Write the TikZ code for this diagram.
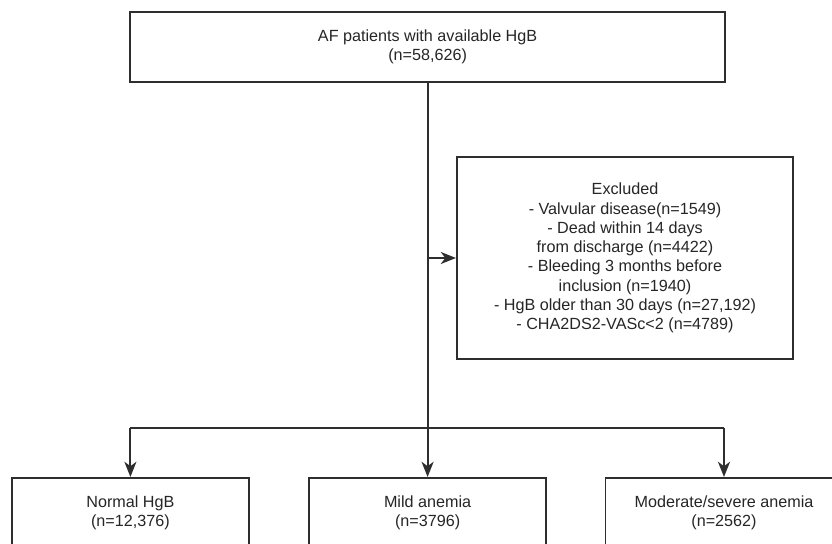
\documentclass[tikz,border=0pt]{standalone}
\usepackage{fontspec}
\setmainfont{Liberation Sans}
\usetikzlibrary{arrows.meta, positioning, calc}
\definecolor{flowgray}{HTML}{2E2E2E}

\begin{document}
\begin{tikzpicture}[
  >=Stealth,
  every node/.style={font=\fontsize{11.5}{13.7}\selectfont},
  stagebox/.style={rectangle, draw=flowgray, line width=1.4pt, fill=white,
                text=black!85, minimum width=5.925cm, minimum height=1.75cm,
                align=center, inner sep=0pt},
  exclbox/.style={rectangle, draw=flowgray, line width=1.4pt, fill=white,
                text=black!85, minimum width=8.4cm, minimum height=5.05cm,
                align=center, inner sep=0pt},
  flow/.style={-{Stealth[length=3.8mm, width=3mm, inset=1.1mm]}, line width=1.4pt, flowgray},
  plainline/.style={line width=1.4pt, flowgray}
]
\useasboundingbox (0,0) rectangle (20.8,-13.6);
\clip (0,0) rectangle (20.8,-13.6);

\node[stagebox, minimum width=14.875cm] (afpts) at (10.69,-1.175)
  {AF patients with available HgB\\(n=58,626)};

\node[exclbox] (excluded) at (15.625,-6.45)
  {Excluded\\
   - Valvular disease(n=1549)\\
   - Dead within 14 days\\
   from discharge (n=4422)\\
   - Bleeding 3 months before\\
   inclusion (n=1940)\\
   - HgB older than 30 days (n=27,192)\\
   - CHA2DS2-VASc<2 (n=4789)};

\node[stagebox] (normal) at (3.26,-12.825) {Normal HgB\\(n=12,376)};
\node[stagebox] (mild) at (10.69,-12.825) {Mild anemia\\(n=3796)};
\node[stagebox] (modsev) at (18.1,-12.825) {Moderate/severe anemia\\(n=2562)};

% tronco principal y derivaciones
\coordinate (exit) at (mild.north |- afpts.south);
\coordinate (tap) at (mild.north |- excluded.west);
\coordinate (split) at (10.69,-10.7);
\coordinate (leftend) at (normal.north |- split);
\coordinate (rightend) at (modsev.north |- split);

\draw[flow] (exit) -- (mild.north);
\draw[flow] (tap) -- (excluded.west);
\draw[plainline] (leftend) -- (rightend);
\draw[flow] (leftend) -- (normal.north);
\draw[flow] (rightend) -- (modsev.north);

\end{tikzpicture}
\end{document}
